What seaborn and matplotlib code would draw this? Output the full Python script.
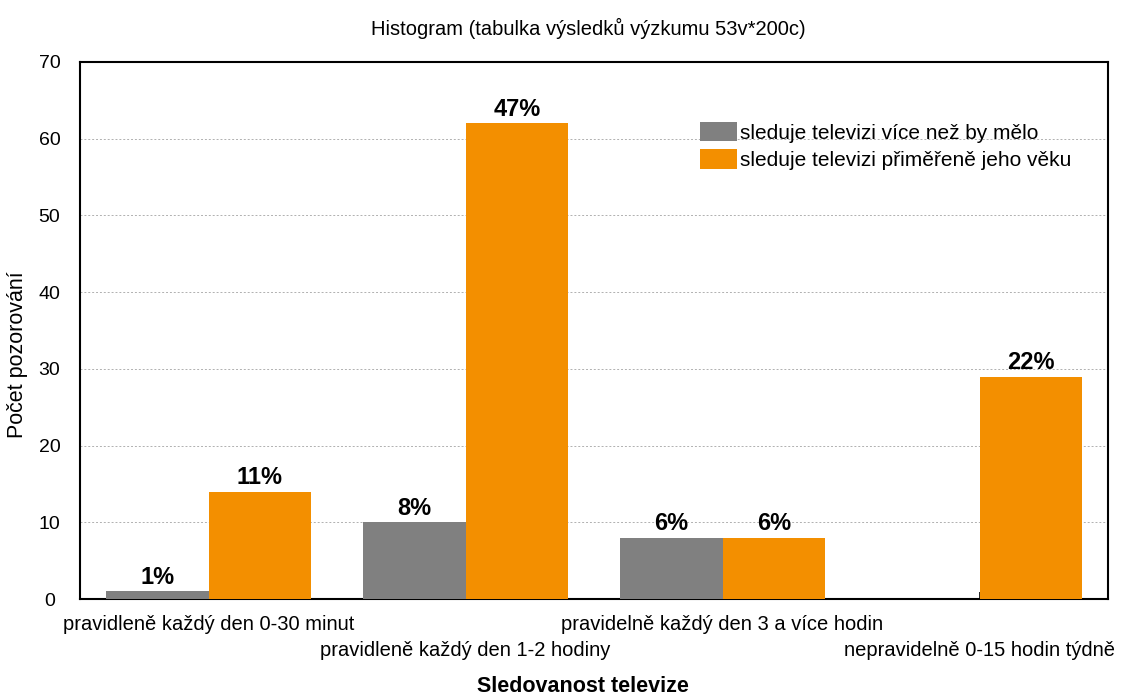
import matplotlib
matplotlib.use("Agg")
import matplotlib.pyplot as plt
import seaborn as sns
import pandas as pd

categories = ["pravidleně každý den 0-30 minut", "pravidleně každý den 1-2 hodiny",
              "pravidelně každý den 3 a více hodin", "nepravidelně 0-15 hodin týdně"]
series_names = ["sleduje televizi více než by mělo", "sleduje televizi přiměřeně jeho věku"]
values_more = [1, 10, 8, 0]
values_ok = [14, 62, 8, 29]
labels_more = ["1%", "8%", "6%", ""]
labels_ok = ["11%", "47%", "6%", "22%"]

df = pd.DataFrame({
    "cat": categories * 2,
    "series": [series_names[0]] * 4 + [series_names[1]] * 4,
    "value": values_more + values_ok,
})

sns.set_style("white")
plt.rcParams['font.family'] = ['Liberation Sans', 'DejaVu Sans']
plt.rcParams['text.color'] = 'black'
plt.rcParams['axes.labelcolor'] = 'black'
plt.rcParams['xtick.color'] = 'black'
plt.rcParams['ytick.color'] = 'black'

fig = plt.figure(figsize=(11.28, 6.99), dpi=100)
ax = fig.add_axes([80/1128, 1-599/699, 1028/1128, 537/699])

sns.barplot(data=df, x="cat", y="value", hue="series", order=categories,
            hue_order=series_names, palette=["#808080", "#F38F00"],
            width=0.8, saturation=1, ax=ax, zorder=3, linewidth=0)

ax.set_xlim(-0.5, 3.5)
ax.set_ylim(0, 70)
ax.set_yticks(range(0, 71, 10))
ax.yaxis.grid(True, linestyle=(0, (2, 2)), color="#b0b0b0", linewidth=0.7, zorder=0)
ax.set_axisbelow(True)
for s in ax.spines.values():
    s.set_linewidth(1.5)
    s.set_color("black")

ax.tick_params(axis="x", direction="in", length=5, width=1.2, bottom=True, top=False, pad=6)
ax.tick_params(axis="y", direction="in", length=0, labelsize=14, pad=22, right=True)
for lab in ax.get_yticklabels():
    lab.set_horizontalalignment("center")
ax.set_xticks(range(4))
ax.set_xticklabels([])
for i, c in enumerate(categories):
    off = -(624 - 599) / 537 if i % 2 == 0 else -(651 - 599) / 537
    t = ax.text(i, 0, c, transform=ax.get_xaxis_transform(), ha="center", va="center",
                fontsize=14.5)
    t.set_y(off)

for cont, labs in zip(ax.containers, [labels_more, labels_ok]):
    ax.bar_label(cont, labels=labs, fontsize=17, fontweight="bold", padding=2)

ax.set_xlabel("Sledovanost televize", fontsize=15.5, fontweight="bold", va="center")
ax.xaxis.set_label_coords((583 - 80) / 1028, -(687 - 599) / 537)
ax.set_ylabel("Počet pozorování", fontsize=15.5, va="center")
ax.yaxis.set_label_coords((18 - 80) / 1028, (599 - 355) / 537)
fig.text(588 / 1128, 1 - 28 / 699, "Histogram (tabulka výsledků výzkumu 53v*200c)",
         ha="center", va="center", fontsize=14.5)

ax.legend(loc="upper left", bbox_to_anchor=((700 - 80) / 1028, (599 - 122) / 537),
          frameon=False, fontsize=15, handlelength=1.78, handleheight=1.06,
          handletextpad=0.15, labelspacing=0.3, borderpad=0, borderaxespad=0)

fig.savefig("out.png", dpi=100)
